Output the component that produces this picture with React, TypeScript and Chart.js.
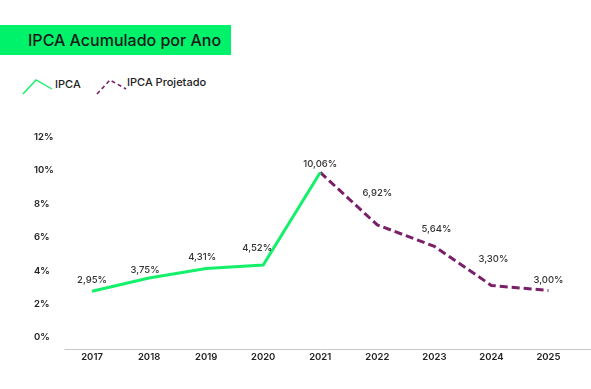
import React, { useEffect, useRef } from "react";
import { Chart, registerables } from "chart.js";

Chart.register(...registerables);

const years = ["2017", "2018", "2019", "2020", "2021", "2022", "2023", "2024", "2025"];
const ipca = [2.95, 3.75, 4.31, 4.52, 10.06, null, null, null, null];
const ipcaProjetado = [null, null, null, null, 10.06, 6.92, 5.64, 3.3, 3.0];
const valueLabels = ["2,95%", "3,75%", "4,31%", "4,52%", "10,06%", "6,92%", "5,64%", "3,30%", "3,00%"];
const yTicks = [0, 2, 4, 6, 8, 10, 12];

// label placement (pixels) relative to each point
const labelDx = [0, -4, -4, -6, 0, 0, 2, 2, 0];
const labelDy = [11, 8, 11, 17, 8, 32, 17, 26, 10];

const GREEN = "#14F06A";
const PURPLE = "#7A2068";
const FONT = "Inter, 'DejaVu Sans', sans-serif";

const labelPlugin = {
  id: "valueLabels",
  afterDatasetsDraw(chart: any) {
    const ctx = chart.ctx;
    const meta0 = chart.getDatasetMeta(0);
    const meta1 = chart.getDatasetMeta(1);
    ctx.save();
    ctx.font = `500 9.5px ${FONT}`;
    ctx.fillStyle = "#333333";
    ctx.textAlign = "center";
    ctx.textBaseline = "middle";
    valueLabels.forEach((txt, i) => {
      const pt = ipca[i] != null ? meta0.data[i] : meta1.data[i];
      if (!pt) return;
      ctx.fillText(txt, pt.x + labelDx[i], pt.y - labelDy[i]);
    });
    ctx.restore();
  },
};

const axisLinePlugin = {
  id: "axisLine",
  beforeDatasetsDraw(chart: any) {
    const { ctx, chartArea, width } = chart;
    ctx.save();
    ctx.strokeStyle = "#c8c8c8";
    ctx.lineWidth = 1;
    ctx.beginPath();
    ctx.moveTo(chartArea.left + 1, Math.round(chartArea.bottom) + 0.5);
    ctx.lineTo(width, Math.round(chartArea.bottom) + 0.5);
    ctx.stroke();
    ctx.restore();
  },
};

function LegendIcon({ color, dashed }: { color: string; dashed?: boolean }) {
  return (
    <svg width="32" height="18" style={{ display: "block" }}>
      <polyline
        points="1,16 14,2 30,11"
        fill="none"
        stroke={color}
        strokeWidth={dashed ? 1.6 : 1.4}
        strokeDasharray={dashed ? "4 3" : undefined}
      />
    </svg>
  );
}

export default function App() {
  const canvasRef = useRef<HTMLCanvasElement>(null);

  useEffect(() => {
    if (!canvasRef.current) return;
    const chart = new Chart(canvasRef.current, {
      type: "line",
      data: {
        labels: years,
        datasets: [
          {
            label: "IPCA",
            data: ipca,
            borderColor: GREEN,
            backgroundColor: GREEN,
            borderWidth: 3,
            pointRadius: 0,
            tension: 0,
            spanGaps: false,
          },
          {
            label: "IPCA Projetado",
            data: ipcaProjetado,
            borderColor: PURPLE,
            backgroundColor: PURPLE,
            borderWidth: 3,
            borderDash: [8, 4],
            pointRadius: 0,
            tension: 0,
            spanGaps: false,
          },
        ],
      },
      options: {
        animation: false,
        responsive: false,
        maintainAspectRatio: false,
        layout: { padding: { left: 34, right: 14, top: 140, bottom: 20 } },
        plugins: {
          legend: { display: false },
          tooltip: { enabled: false },
          title: { display: false },
        },
        scales: {
          x: {
            type: "category",
            offset: true,
            grid: { display: false, drawTicks: false },
            border: { display: false },
            ticks: {
              color: "#222222",
              font: { family: FONT, size: 9.5, weight: "600" as any },
              padding: 2,
              maxRotation: 0,
            },
            afterFit(scale: any) {
              scale.height = 20;
            },
          },
          y: {
            min: -0.5,
            max: 12,
            grid: { display: false, drawTicks: false },
            border: { display: false },
            afterBuildTicks(scale: any) {
              scale.ticks = yTicks.map((v) => ({ value: v }));
            },
            ticks: {
              color: "#222222",
              font: { family: FONT, size: 9.5, weight: "600" as any },
              crossAlign: "far",
              labelOffset: -3,
              callback: (v: any) => `${v}%`,
            },
            afterFit(scale: any) {
              scale.width = 29.5;
            },
          },
        },
      },
      plugins: [axisLinePlugin, labelPlugin],
    });
    return () => chart.destroy();
  }, []);

  return (
    <div
      style={{
        position: "fixed",
        left: 0,
        top: 0,
        width: 591,
        height: 389,
        background: "#ffffff",
        fontFamily: FONT,
        overflow: "hidden",
      }}
    >
      <div
        style={{
          position: "absolute",
          left: 0,
          top: 25,
          width: 231,
          height: 30,
          background: "#00F26B",
          color: "#1a1a1a",
          fontSize: 16,
          fontWeight: 500,
          lineHeight: "30px",
          paddingLeft: 28,
          boxSizing: "border-box",
          whiteSpace: "nowrap",
        }}
      >
        IPCA Acumulado por Ano
      </div>
      <div style={{ position: "absolute", left: 22, top: 78 }}>
        <LegendIcon color={GREEN} />
      </div>
      <div
        style={{
          position: "absolute",
          left: 55,
          top: 77,
          fontSize: 11,
          fontWeight: 500,
          color: "#222",
          lineHeight: "14px",
        }}
      >
        IPCA
      </div>
      <div style={{ position: "absolute", left: 96, top: 78 }}>
        <LegendIcon color={PURPLE} dashed />
      </div>
      <div
        style={{
          position: "absolute",
          left: 127,
          top: 75,
          fontSize: 11,
          fontWeight: 500,
          color: "#222",
          lineHeight: "14px",
        }}
      >
        IPCA Projetado
      </div>
      <canvas
        ref={canvasRef}
        width={591}
        height={389}
        style={{ position: "absolute", left: 0, top: 0 }}
      />
    </div>
  );
}
